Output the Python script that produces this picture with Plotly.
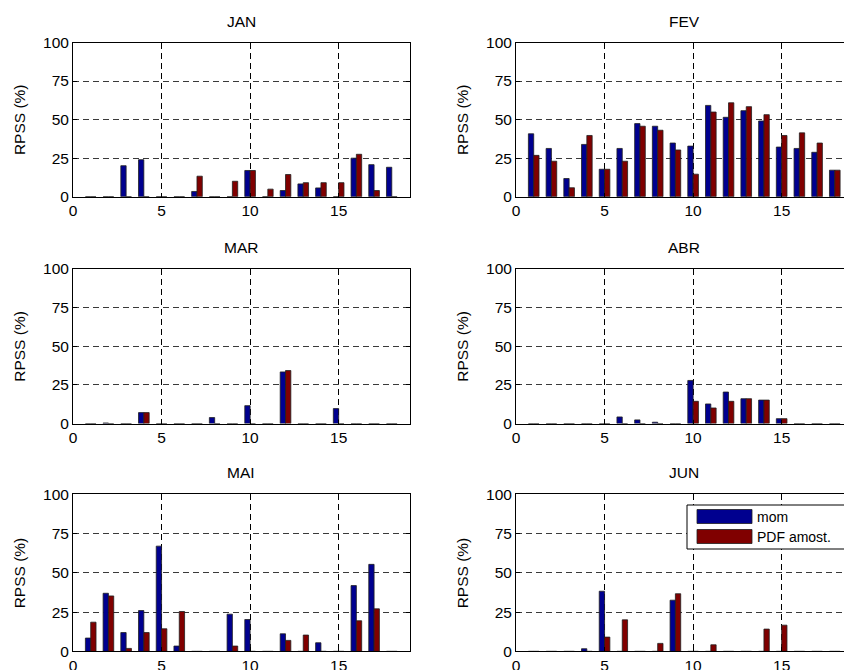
import plotly.graph_objects as go

# ---------------- data ----------------
stations = list(range(1, 19))
month_names = ["JAN", "FEV", "MAR", "ABR", "MAI", "JUN"]
series_names = ["mom", "PDF amost."]

jan_mom = [0, 0, 20.1, 24.0, 0, 0, 3.4, 0, 0, 17.0, 0, 4.0, 8.3, 5.7, 0, 25.0, 20.8, 19.1]
jan_pdf = [0, 0, 0, 0, 0, 0, 13.3, 0, 10.0, 17.0, 4.9, 14.4, 9.1, 9.1, 9.1, 27.5, 4.0, 0]

fev_mom = [40.8, 31.3, 11.8, 33.9, 17.8, 31.3, 47.4, 45.7, 34.8, 32.8, 59.2, 51.5, 55.8, 49.1, 32.2, 31.3, 28.8, 17.2]
fev_pdf = [26.8, 23.0, 5.8, 39.7, 17.8, 23.0, 45.7, 43.1, 30.3, 14.6, 54.9, 60.9, 58.4, 53.2, 39.7, 41.4, 34.8, 17.2]

mar_mom = [0, 0.4, 0, 7.1, 0, 0, 0, 3.9, 0, 11.6, 0, 33.4, 0, 0, 9.7, 0, 0, 0]
mar_pdf = [0, 0, 0, 7.1, 0, 0, 0, 0, 0, 0, 0, 34.3, 0, 0, 0, 0, 0, 0]

abr_mom = [0, 0, 0, 0, 0, 4.3, 2.4, 0.9, 0, 27.9, 12.7, 20.4, 16.1, 15.2, 3.2, 0, 0, 0]
abr_pdf = [0, 0, 0, 0, 0, 0, 0, 0, 0, 14.4, 10.1, 14.4, 16.1, 15.2, 3.2, 0, 0, 0]

mai_mom = [8.5, 37.0, 12.0, 26.0, 67.0, 3.4, 0, 0, 23.7, 20.3, 0, 11.2, 0, 5.5, 0, 41.9, 55.4, 0]
mai_pdf = [18.6, 35.3, 1.9, 12.0, 14.4, 25.4, 0, 0, 3.4, 0, 0, 7.0, 10.4, 0, 0, 19.5, 27.1, 0]

jun_mom = [0, 0, 0, 1.7, 38.3, 0, 0, 0, 32.6, 0, 0, 0, 0, 0, 0, 0, 0, 0]
jun_pdf = [0, 0, 0, 0, 9.1, 20.1, 0, 5.1, 36.7, 0, 4.2, 0, 0, 14.2, 16.7, 0, 0, 0]

x_ticks = [0, 5, 10, 15]
y_ticks = [0, 25, 50, 75, 100]

panels = [
    (jan_mom, jan_pdf), (fev_mom, fev_pdf),
    (mar_mom, mar_pdf), (abr_mom, abr_pdf),
    (mai_mom, mai_pdf), (jun_mom, jun_pdf),
]

# ---------------- styling / layout ----------------
W, H = 844, 670
FONT = "Liberation Sans, Arial, Helvetica, sans-serif"
BLUE = "#00008F"
RED = "#800000"

def px_x(p):
    return p / W

def px_y(p):
    return 1 - p / H

# pixel boxes of the axes: (left, right) and (top, bottom)
col_px = [(73.0, 409.5), (516.0, 844.0)]
col_range = [(0, 19), (0, (844.0 - 516.0) / ((409.5 - 73.0) / 19))]
row_px = [(42.5, 196.7), (268.9, 423.6), (494.3, 651.4)]

fig = go.Figure()
annotations = []
shapes = []

for i, (mom, pdf) in enumerate(panels):
    r, c = divmod(i, 2)
    ax = i + 1
    xa = "x" if ax == 1 else f"x{ax}"
    ya = "y" if ax == 1 else f"y{ax}"
    for vals, col, nm in ((mom, BLUE, series_names[0]), (pdf, RED, series_names[1])):
        fig.add_trace(go.Bar(
            x=stations, y=vals, name=nm, xaxis=xa, yaxis=ya,
            marker=dict(color=col, line=dict(color="#202020", width=0.8)),
            showlegend=False,
        ))
    xl, xr = col_px[c]
    yt, yb = row_px[r]
    xkey = "xaxis" if ax == 1 else f"xaxis{ax}"
    ykey = "yaxis" if ax == 1 else f"yaxis{ax}"
    fig.layout[xkey] = dict(
        domain=[px_x(xl), px_x(xr)], range=list(col_range[c]), anchor=ya,
        tickvals=x_ticks, ticktext=[str(t) for t in x_ticks],
        ticks="inside", ticklen=4, tickcolor="black",
        showline=True, linecolor="black", linewidth=1, mirror="ticks",
        showgrid=True, gridcolor="black", gridwidth=1, griddash="6px,4px",
        zeroline=False, tickfont=dict(family=FONT, size=15.5, color="black"),
        fixedrange=True, automargin=False,
    )
    fig.layout[ykey] = dict(
        domain=[px_y(yb), px_y(yt)], range=[0, 100], anchor=xa,
        tickvals=y_ticks, ticks="inside", ticklen=4, tickcolor="black",
        showline=True, linecolor="black", linewidth=1,
        mirror="ticks" if c == 0 else False,
        showgrid=True, gridcolor="#3a3a3a", gridwidth=1, griddash="6px,4px",
        zeroline=False, tickfont=dict(family=FONT, size=15.5, color="black"),
        fixedrange=True, automargin=False,
    )
    # title
    annotations.append(dict(
        text=month_names[i], xref=xa, x=9.5, yref="paper", y=px_y(yt - 21.5),
        xanchor="center", yanchor="middle", showarrow=False,
        font=dict(family=FONT, size=15.5, color="black"),
    ))
    # y label
    annotations.append(dict(
        text="RPSS (%)", xref="paper", x=px_x(xl - 53.5), yref="paper",
        y=px_y((yt + yb) / 2), xanchor="center", yanchor="middle",
        textangle=-90, showarrow=False,
        font=dict(family=FONT, size=15.5, color="black"),
    ))

# legend box (inside JUN panel, top-right)
lg_l, lg_t, lg_b = 687, 505, 549
shapes.append(dict(type="rect", xref="paper", yref="paper",
                   x0=px_x(lg_l), x1=px_x(W + 5), y0=px_y(lg_b), y1=px_y(lg_t),
                   line=dict(color="black", width=1), fillcolor="white", layer="above"))
for k, (col, nm) in enumerate(((BLUE, series_names[0]), (RED, series_names[1]))):
    t0 = 509.5 + k * 20
    shapes.append(dict(type="rect", xref="paper", yref="paper",
                       x0=px_x(697), x1=px_x(752), y0=px_y(t0 + 14), y1=px_y(t0),
                       line=dict(color="#202020", width=0.8), fillcolor=col, layer="above"))
    annotations.append(dict(
        text=nm, xref="paper", x=px_x(755), yref="paper", y=px_y(t0 + 7),
        xanchor="left", yanchor="middle", showarrow=False,
        font=dict(family=FONT, size=14, color="black"),
    ))

fig.update_layout(
    width=W, height=H, autosize=False,
    margin=dict(l=0, r=0, t=0, b=0, pad=0, autoexpand=False),
    paper_bgcolor="white", plot_bgcolor="white",
    barmode="group", bargap=0.4, bargroupgap=0,
    annotations=annotations, shapes=shapes, showlegend=False,
    font=dict(family=FONT, color="black"),
)

fig.write_html(
    "out.html",
    config={"displayModeBar": False},
    post_script="document.body.style.margin='0';document.body.style.padding='0';"
                "document.body.style.overflow='hidden';"
                "document.documentElement.style.overflow='hidden';",
)
